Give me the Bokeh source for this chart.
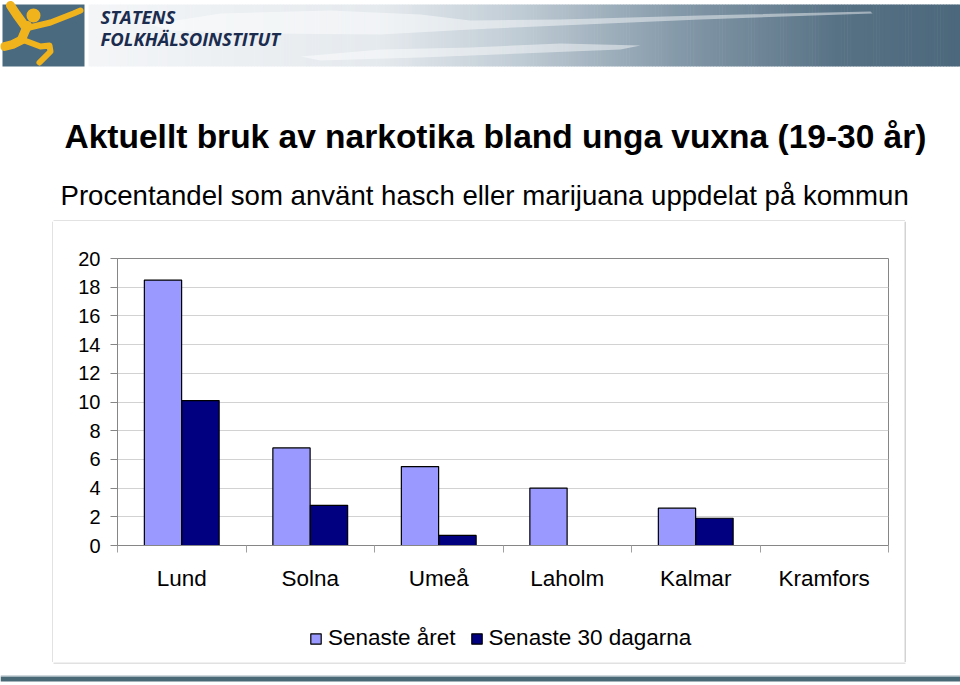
import numpy as np
from bokeh.plotting import figure
from bokeh.layouts import column, row
from bokeh.models import Range1d, FixedTicker, ColumnDataSource, Legend, LegendItem
from bokeh.transform import dodge
from bokeh.core.properties import value
from bokeh.embed import file_html
from bokeh.resources import INLINE

# ---------------- data ----------------
cities = ["Lund", "Solna", "Umeå", "Laholm", "Kalmar", "Kramfors"]
senaste_aret = [18.5, 6.8, 5.5, 4.0, 2.6, np.nan]
senaste_30_dagarna = [10.1, 2.8, 0.7, np.nan, 1.9, np.nan]
series_names = ["Senaste året", "Senaste 30 dagarna"]
y_ticks = [0, 2, 4, 6, 8, 10, 12, 14, 16, 18, 20]
title_text = "Aktuellt bruk av narkotika bland unga vuxna (19-30 år)"
subtitle_text = "Procentandel som använt hasch eller marijuana uppdelat på kommun"
org_lines = ["STATENS", "FOLKHÄLSOINSTITUT"]

FONT = "Liberation Sans"
LIGHT = "#9999FF"
DARK = "#000080"
BOXLINE = "#c4c4c4"
YELLOW = "#f1b31c"


def deco(w, h, x0, x1, y0, y1):
    f = figure(width=w, height=h, x_range=Range1d(x0, x1), y_range=Range1d(y1, y0),
               output_backend="svg", toolbar_location=None, tools="", min_border=0,
               x_axis_location=None, y_axis_location=None)
    f.outline_line_color = None
    f.background_fill_color = "white"
    f.border_fill_color = "white"
    f.xgrid.visible = False
    f.ygrid.visible = False
    return f


# ---------------- header banner ----------------
hdr = deco(960, 68, 0, 960, 0, 68)
stops_x = [88, 380, 520, 680, 840, 960]
stops_c = [(244, 246, 248), (229, 234, 238), (192, 204, 213), (132, 153, 169), (88, 114, 133), (76, 104, 124)]
N = 300
xs = np.linspace(88, 960, N + 1)
mid = (xs[:-1] + xs[1:]) / 2
rr = np.interp(mid, stops_x, [c[0] for c in stops_c]).astype(int)
gg = np.interp(mid, stops_x, [c[1] for c in stops_c]).astype(int)
bb = np.interp(mid, stops_x, [c[2] for c in stops_c]).astype(int)
cols = ["#%02x%02x%02x" % (a, b, c) for a, b, c in zip(rr, gg, bb)]
hdr.quad(left=xs[:-1], right=xs[1:] + 0.6, top=4, bottom=66, fill_color=cols, line_color=None)
# pale swooshes
hdr.patch(x=[150, 220, 330, 420, 470, 560, 700, 870, 872, 700, 560, 470, 380, 260, 170],
          y=[24, 13, 10, 14, 20, 19, 15, 11, 13, 19, 25, 29, 34, 33, 30],
          fill_color="white", fill_alpha=0.45, line_color=None)
hdr.patch(x=[300, 380, 470, 560, 640, 620, 520, 420, 320],
          y=[56, 49, 47, 43, 45, 49, 53, 57, 60],
          fill_color="white", fill_alpha=0.45, line_color=None)
# logo: jumping figure
hdr.quad(left=2, right=84, top=4, bottom=66, fill_color="#4a6a80", line_color=None)
hdr.multi_line(xs=[[10, 16, 24], [27, 21], [4, 12, 22]], ys=[[5, 14, 25], [25, 39], [46, 44, 39]],
               line_color=YELLOW, line_width=9, line_cap="round", line_join="round")
hdr.multi_line(xs=[[29, 50, 73, 80], [24, 40, 49, 50, 39]], ys=[[27, 22, 13, 10], [40, 46, 45, 51, 62]],
               line_color=YELLOW, line_width=6, line_cap="round", line_join="round")
hdr.scatter(x=[33], y=[15], size=14, marker="circle", fill_color=YELLOW, line_color=None)
hdr.text(x=[100, 100], y=[15.5, 37.5], text=org_lines, text_font=value("Open Sans"),
         text_font_style="bold italic", text_font_size="18.5px", text_color="#1b2c4f",
         text_baseline="middle", text_align="left")

# ---------------- titles ----------------
mid_f = deco(960, 153, 0, 960, 68, 221)
mid_f.text(x=[64], y=[135.8], text=[title_text], text_font=value(FONT), text_font_style="bold",
           text_font_size="33.5px", text_color="black", text_baseline="middle", text_align="left")
mid_f.text(x=[60], y=[195], text=[subtitle_text], text_font=value(FONT),
           text_font_size="27.6px", text_color="black", text_baseline="middle", text_align="left")
mid_f.segment(x0=[53], y0=[220.5], x1=[904.5], y1=[220.5], line_color=BOXLINE, line_width=1)

# ---------------- chart ----------------
xpos = [i + 0.5 for i in range(len(cities))]
src = ColumnDataSource(dict(x=xpos, city=cities, a=senaste_aret, b=senaste_30_dagarna))

p = figure(width=851, height=379, x_range=Range1d(0, len(cities)), y_range=Range1d(0, 20),
           output_backend="svg", toolbar_location=None, tools="",
           min_border_left=64, min_border_right=16, min_border_top=37, min_border_bottom=55)
p.background_fill_color = "white"
p.border_fill_color = "white"
p.outline_line_color = "#868686"
p.outline_line_width = 1

bar_style = dict(line_color="black", line_width=1.2)
p.vbar(x=dodge("x", -0.146, range=p.x_range), top="a", width=0.29, source=src,
       fill_color=LIGHT, **bar_style)
p.vbar(x=dodge("x", 0.146, range=p.x_range), top="b", width=0.29, source=src,
       fill_color=DARK, **bar_style)

p.xgrid.visible = False
p.ygrid.ticker = FixedTicker(ticks=y_ticks)
p.ygrid.grid_line_color = "#d2d2d2"
p.ygrid.grid_line_width = 1

p.yaxis.ticker = FixedTicker(ticks=y_ticks)
p.yaxis.axis_line_color = "#868686"
p.yaxis.major_tick_line_color = "#868686"
p.yaxis.major_tick_out = 7
p.yaxis.major_tick_in = 0
p.yaxis.minor_tick_line_color = None
p.yaxis.major_label_text_font = FONT
p.yaxis.major_label_text_font_size = "20px"
p.yaxis.major_label_text_color = "black"
p.yaxis.major_label_standoff = 10

p.xaxis.ticker = FixedTicker(ticks=xpos, minor_ticks=list(range(len(cities) + 1)))
p.xaxis.major_label_overrides = {x: c for x, c in zip(xpos, cities)}
p.xaxis.axis_line_color = "#868686"
p.xaxis.major_tick_line_color = None
p.xaxis.major_tick_out = 0
p.xaxis.major_tick_in = 0
p.xaxis.minor_tick_line_color = "#a0a0a0"
p.xaxis.minor_tick_out = 7
p.xaxis.minor_tick_in = 0
p.xaxis.major_label_text_font = FONT
p.xaxis.major_label_text_font_size = "22.5px"
p.xaxis.major_label_text_color = "black"
p.xaxis.major_label_standoff = 13

# ---------------- legend strip (same series styles) ----------------
leg_f = deco(851, 62, 53, 904, 600, 662)
hidden = ColumnDataSource(dict(x=[np.nan], top=[np.nan]))
lr1 = leg_f.vbar(x="x", top="top", width=1, source=hidden, fill_color=LIGHT, **bar_style)
lr2 = leg_f.vbar(x="x", top="top", width=1, source=hidden, fill_color=DARK, **bar_style)
legend = Legend(items=[LegendItem(label=series_names[0], renderers=[lr1], index=0),
                       LegendItem(label=series_names[1], renderers=[lr2], index=0)],
                location=(192, 11), orientation="horizontal",
                glyph_width=13, glyph_height=13, label_standoff=6, spacing=14,
                padding=0, margin=0, border_line_color=None, background_fill_alpha=0,
                label_text_font=FONT, label_text_font_size="22.5px", label_text_color="black")
leg_f.add_layout(legend, "center")

left_f = deco(53, 441, 0, 53, 221, 662)
left_f.segment(x0=[52.5], y0=[221], x1=[52.5], y1=[662], line_color=BOXLINE, line_width=1)
right_f = deco(56, 441, 904, 960, 221, 662)
right_f.segment(x0=[904.5], y0=[221], x1=[904.5], y1=[662], line_color=BOXLINE, line_width=1.5)

bot = deco(960, 23, 0, 960, 662, 685)
bot.segment(x0=[53], y0=[662.5], x1=[905], y1=[662.5], line_color=BOXLINE, line_width=1)
bot.quad(left=0, right=960, top=676, bottom=681, fill_color="#4a6976", line_color=None)
bot.segment(x0=[0], y0=[675.5], x1=[960], y1=[675.5], line_color="#9fb3bb", line_width=1)

layout = column(hdr, mid_f, row(left_f, column(p, leg_f), right_f), bot)

open("out.html", "w").write(file_html(layout, INLINE))
